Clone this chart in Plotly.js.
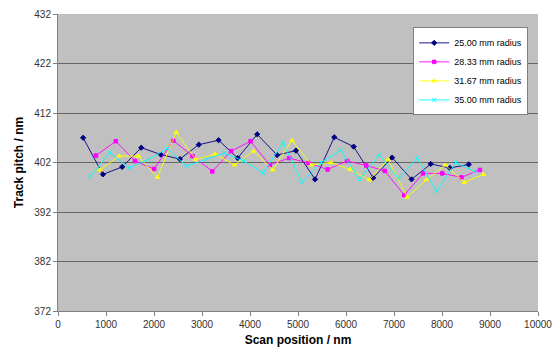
<!DOCTYPE html>
<html>
<head>
<meta charset="utf-8">
<script src="https://cdn.plot.ly/plotly-3.0.1.min.js"></script>
<style>
html,body{margin:0;padding:0;background:#fff;}
#chart{width:554px;height:350px;}
</style>
</head>
<body>
<div id="chart"></div>
<script>
// Series names
var seriesNames = ["25.00 mm radius", "28.33 mm radius", "31.67 mm radius", "35.00 mm radius"];

// Scan positions (nm) per series
var x25 = [523, 936, 1337, 1735, 2142, 2540, 2933, 3345, 3744, 4150, 4563, 4956, 5355, 5755, 6160, 6567, 6960, 7366, 7765, 8164, 8556];
var x28 = [791, 1204, 1604, 2003, 2402, 2802, 3215, 3607, 4012, 4412, 4817, 5218, 5616, 6023, 6422, 6808, 7213, 7605, 8005, 8404, 8790];
var x31 = [873, 1274, 1673, 2071, 2463, 2870, 3269, 3675, 4074, 4474, 4873, 5280, 5684, 6085, 6484, 6876, 7274, 7675, 8067, 8466, 8864];
var x35 = [675, 1080, 1480, 1885, 2277, 2678, 3091, 3469, 3868, 4274, 4687, 5086, 5486, 5885, 6284, 6690, 7097, 7481, 7888, 8286, 8679];

// Track pitch (nm) per series
var y25 = [407.0, 399.6, 401.1, 405.0, 403.6, 402.7, 405.6, 406.5, 402.9, 407.7, 403.5, 404.4, 398.6, 407.1, 405.2, 398.9, 403.0, 398.6, 401.7, 400.9, 401.6];
var y28 = [403.4, 406.3, 402.3, 400.7, 406.4, 403.3, 400.2, 404.3, 406.3, 401.5, 402.9, 401.9, 400.6, 402.3, 401.4, 400.3, 395.4, 399.8, 399.8, 399.0, 400.5];
var y31 = [400.5, 403.3, 403.3, 399.0, 408.1, 402.6, 403.7, 401.5, 404.3, 400.5, 406.5, 401.5, 402.0, 400.6, 398.5, 402.6, 395.0, 398.5, 401.5, 398.0, 399.6];
var y35 = [399.2, 404.0, 400.9, 402.6, 404.8, 401.3, 402.6, 403.9, 402.3, 399.9, 406.0, 398.0, 402.0, 404.5, 398.6, 403.5, 398.8, 402.9, 396.2, 402.0, 400.2];

// Tick values
var xTicks = [0, 1000, 2000, 3000, 4000, 5000, 6000, 7000, 8000, 9000, 10000];
var yTicks = [372, 382, 392, 402, 412, 422, 432];

var colors = ["#000080", "#FF00FF", "#FFFF00", "#00FFFF"];
var symbols = ["diamond", "square", "triangle-up", "x-thin-open"];
var sizes = [4, 3.5, 4, 4];
var xs = [x25, x28, x31, x35];
var ys = [y25, y28, y31, y35];

var traces = [];
for (var i = 0; i < 4; i++) {
  traces.push({
    x: xs[i], y: ys[i], name: seriesNames[i],
    type: "scatter", mode: "lines+markers",
    line: {color: colors[i], width: 0.9},
    marker: {color: colors[i], symbol: symbols[i], size: sizes[i], line: {color: colors[i], width: 1}}
  });
}

var layout = {
  width: 554, height: 350,
  margin: {l: 58, r: 16, t: 14, b: 39},
  paper_bgcolor: "#ffffff",
  plot_bgcolor: "#C0C0C0",
  font: {family: "Liberation Sans, Arial, sans-serif", size: 10, color: "#000"},
  showlegend: true,
  legend: {
    x: 0.74, y: 0.955, xanchor: "left", yanchor: "top",
    bgcolor: "#ffffff", bordercolor: "#808080", borderwidth: 1,
    font: {size: 9, family: "Liberation Sans, Arial, sans-serif"},
    tracegroupgap: 0, itemwidth: 30
  },
  xaxis: {
    range: [0, 10000], tickvals: xTicks, ticktext: xTicks.map(String),
    showgrid: false, zeroline: false,
    showline: true, linecolor: "#808080", linewidth: 1,
    ticks: "outside", ticklen: 4, tickcolor: "#808080",
    tickfont: {size: 10, color: "#333"},
    title: {text: "<b>Scan position / nm</b>", font: {size: 12}, standoff: 6}
  },
  yaxis: {
    range: [372, 432], tickvals: yTicks, ticktext: yTicks.map(String),
    showgrid: true, gridcolor: "#666666", gridwidth: 1, zeroline: false,
    showline: true, linecolor: "#808080", linewidth: 1,
    ticks: "outside", ticklen: 4, tickcolor: "#808080",
    tickfont: {size: 10, color: "#333"},
    title: {text: "<b>Track pitch / nm</b>", font: {size: 12}, standoff: 8}
  }
};

Plotly.newPlot("chart", traces, layout, {staticPlot: true, displayModeBar: false});
</script>
</body>
</html>
